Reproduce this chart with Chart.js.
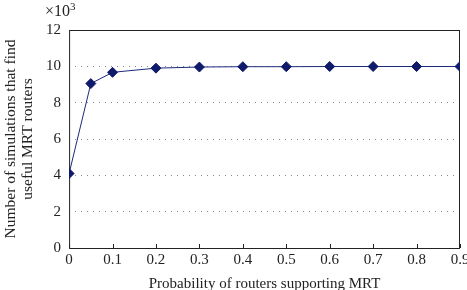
<!DOCTYPE html>
<html>
<head>
<meta charset="utf-8">
<script src="https://cdn.jsdelivr.net/npm/chart.js@4"></script>
<style>
    body { margin: 0; overflow: hidden; background: #fff; }
    #wrap { position: relative; width: 480px; height: 290px; }
    #mult { position: absolute; left: 45px; top: 0px; font: 16px "Liberation Serif", serif; color: #222; }
    #mult sup { font-size: 11px; }
</style>
</head>
<body>
<div id="wrap">
    <canvas id="chart" width="480" height="290"></canvas>
    <div id="mult">&times;10<sup>3</sup></div>
</div>
<script>
const probability = [0, 0.05, 0.1, 0.2, 0.3, 0.4, 0.5, 0.6, 0.7, 0.8, 0.9];
const simulations = [4.1, 9.05, 9.67, 9.9, 9.96, 9.98, 9.98, 9.99, 9.99, 9.99, 9.99];
const xTicks = [0, 0.1, 0.2, 0.3, 0.4, 0.5, 0.6, 0.7, 0.8, 0.9];
const yTicks = [0, 2, 4, 6, 8, 10, 12];

const serif = "'Liberation Serif', 'DejaVu Serif', serif";

// box round the plot and small inner ticks on the x axis
const frame = {
    id: 'frame',
    beforeDatasetsDraw(chart) {
        const {ctx, chartArea: a, scales} = chart;
        ctx.save();
        ctx.strokeStyle = '#222';
        ctx.lineWidth = 1;
        ctx.strokeRect(a.left + 0.5, a.top + 0.5, a.right - a.left - 1, a.bottom - a.top);
        ctx.beginPath();
        xTicks.forEach(v => {
            const x = Math.round(scales.x.getPixelForValue(v)) + 0.5;
            ctx.moveTo(x, a.bottom);
            ctx.lineTo(x, a.bottom - 4);
        });
        ctx.stroke();
        ctx.restore();
    }
};

new Chart(document.getElementById('chart'), {
    type: 'line',
    data: {
        datasets: [{
            data: probability.map((p, i) => ({x: p, y: simulations[i]})),
            borderColor: '#1c2a7a',
            borderWidth: 1,
            backgroundColor: '#0f1a6b',
            pointBackgroundColor: '#0f1a6b',
            pointBorderColor: '#0f1a6b',
            pointStyle: 'rectRot',
            pointRadius: 5,
            tension: 0
        }]
    },
    options: {
        responsive: false,
        animation: false,
        layout: {padding: {left: 0, right: 20, top: 30, bottom: -2}},
        plugins: {legend: {display: false}, tooltip: {enabled: false}},
        scales: {
            x: {
                type: 'linear',
                min: 0,
                max: 0.9,
                afterBuildTicks: s => { s.ticks = xTicks.map(v => ({value: v})); },
                ticks: {
                    font: {family: serif, size: 15},
                    color: '#222',
                    padding: 3,
                    maxRotation: 0
                },
                grid: {display: false, drawTicks: false},
                border: {display: false},
                title: {
                    display: true,
                    text: 'Probability of routers supporting MRT',
                    font: {family: serif, size: 15, lineHeight: 1.0},
                    color: '#222',
                    padding: {top: 5, bottom: 0}
                }
            },
            y: {
                min: 0,
                max: 12,
                afterBuildTicks: s => { s.ticks = yTicks.map(v => ({value: v})); },
                ticks: {
                    font: {family: serif, size: 15},
                    color: '#222',
                    padding: 8
                },
                grid: {
                    drawTicks: false,
                    color: c => (c.tick && (c.tick.value === 0 || c.tick.value === 12)) ? 'rgba(0,0,0,0)' : '#888'
                },
                border: {display: false, dash: [1, 5]},
                title: {
                    display: true,
                    text: ['Number of simulations that find', 'useful MRT routers'],
                    font: {family: serif, size: 15.5, lineHeight: 1.1},
                    color: '#222',
                    padding: {top: 2, bottom: 2}
                }
            }
        }
    },
    plugins: [frame]
});
</script>
</body>
</html>
